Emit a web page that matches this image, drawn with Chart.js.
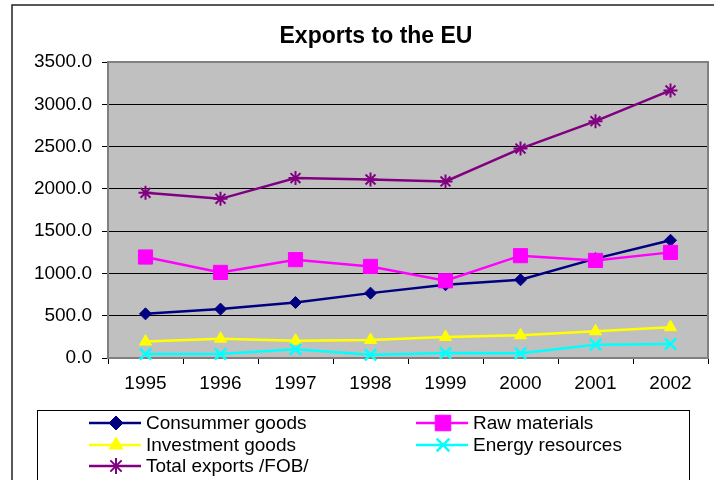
<!DOCTYPE html>
<html>
<head>
<meta charset="utf-8">
<title>Exports to the EU</title>
<script src="https://cdn.jsdelivr.net/npm/chart.js@4/dist/chart.umd.min.js"></script>
<style>
  body { margin: 0; background: #fff; }
  #wrap { width: 714px; height: 480px; }
</style>
</head>
<body>
<div id="wrap"><canvas id="euChart" width="714" height="480"></canvas></div>
<script>
// values
const years = ['1995', '1996', '1997', '1998', '1999', '2000', '2001', '2002'];
const consumerGoods = [522, 578, 656, 767, 866, 925, 1175, 1392];
const rawMaterials = [1194, 1012, 1163, 1083, 913, 1210, 1154, 1249];
const investmentGoods = [194, 229, 205, 214, 249, 269, 316, 364];
const energyResources = [47, 47, 103, 39, 59, 56, 158, 166];
const totalExports = [1953, 1882, 2127, 2111, 2088, 2476, 2800, 3164];

const font = 'Arial, "Liberation Sans", sans-serif';

const series = [
  { label: 'Consummer goods', data: consumerGoods, color: '#000080', style: 'rectRot', r: 6, bw: 1 },
  { label: 'Raw materials', data: rawMaterials, color: '#FF00FF', style: 'rect', r: 10, bw: 1 },
  { label: 'Investment goods', data: investmentGoods, color: '#FFFF00', style: 'triangle', r: 7, bw: 1 },
  { label: 'Energy resources', data: energyResources, color: '#00FFFF', style: 'crossRot', r: 8, bw: 2.5 },
  { label: 'Total exports /FOB/', data: totalExports, color: '#800080', style: 'star', r: 7, bw: 2 }
];

// legend slots: [lineStartX, rowY]
const legendSlots = [[89, 423], [416, 423], [89, 445], [416, 445], [89, 466]];

const framePlugin = {
  id: 'frame',
  beforeDraw(chart) {
    const { ctx, chartArea: a } = chart;
    ctx.save();
    ctx.fillStyle = '#fff';
    ctx.fillRect(0, 0, chart.width, chart.height);
    // outer border
    ctx.strokeStyle = '#222';
    ctx.lineWidth = 1.5;
    ctx.beginPath();
    ctx.moveTo(12, 480);
    ctx.lineTo(12, 5);
    ctx.lineTo(714, 5);
    ctx.stroke();
    // plot background
    ctx.fillStyle = '#C0C0C0';
    ctx.fillRect(a.left, a.top, a.right - a.left, a.bottom - a.top);
    ctx.restore();
  },
  beforeDatasetsDraw(chart) {
    const { ctx, chartArea: a } = chart;
    ctx.save();
    ctx.strokeStyle = '#808080';
    ctx.lineWidth = 2;
    ctx.strokeRect(a.left, a.top, a.right - a.left, a.bottom - a.top);
    ctx.restore();
  },
  afterDraw(chart) {
    const ctx = chart.ctx;
    ctx.save();
    // title
    ctx.fillStyle = '#000';
    ctx.font = 'bold 23px ' + font;
    ctx.textAlign = 'center';
    ctx.textBaseline = 'middle';
    ctx.fillText('Exports to the EU', 376, 37);
    // legend box
    ctx.strokeStyle = '#000';
    ctx.lineWidth = 1;
    ctx.strokeRect(37.5, 410.5, 652, 80);
    ctx.font = '19px ' + font;
    ctx.textAlign = 'left';
    series.forEach((s, i) => {
      const [x0, y] = legendSlots[i];
      ctx.strokeStyle = s.color;
      ctx.lineWidth = 2.5;
      ctx.beginPath();
      ctx.moveTo(x0, y);
      ctx.lineTo(x0 + 52, y);
      ctx.stroke();
      ctx.fillStyle = s.color;
      ctx.strokeStyle = s.color;
      ctx.lineWidth = s.bw;
      Chart.helpers.drawPoint(ctx, { pointStyle: s.style, radius: s.r + 1, borderWidth: s.bw, rotation: 0 }, x0 + 27, y);
      ctx.fillStyle = '#000';
      ctx.fillText(s.label, x0 + 57, y + 1);
    });
    ctx.restore();
  }
};

new Chart(document.getElementById('euChart').getContext('2d'), {
  type: 'line',
  data: {
    labels: years,
    datasets: series.map((s, i) => ({
      label: s.label,
      data: s.data,
      borderColor: s.color,
      backgroundColor: s.color,
      pointBackgroundColor: s.color,
      pointBorderColor: s.color,
      pointStyle: s.style,
      pointRadius: s.r,
      pointBorderWidth: s.bw,
      borderWidth: 2.5,
      tension: 0,
      fill: false,
      clip: false,
      order: 5 - i
    }))
  },
  options: {
    responsive: false,
    animation: false,
    layout: { autoPadding: false, padding: { left: 12, right: 6, top: 62, bottom: 78 } },
    scales: {
      x: {
        offset: true,
        afterFit: scale => { scale.height = 44; },
        grid: { offset: true, drawOnChartArea: false, drawTicks: true, tickLength: 6, color: '#000' },
        border: { display: false },
        ticks: { color: '#000', font: { family: font, size: 19 }, padding: 8, maxRotation: 0 }
      },
      y: {
        min: 0,
        max: 3500,
        afterFit: scale => { scale.width = 96; },
        grid: { color: '#000', lineWidth: 1, tickLength: 6 },
        border: { display: false },
        ticks: {
          stepSize: 500,
          color: '#000',
          font: { family: font, size: 19 },
          padding: 10,
          callback: v => Number(v).toFixed(1)
        }
      }
    },
    plugins: {
      legend: { display: false },
      title: { display: false },
      tooltip: { enabled: false }
    }
  },
  plugins: [framePlugin]
});
</script>
</body>
</html>
